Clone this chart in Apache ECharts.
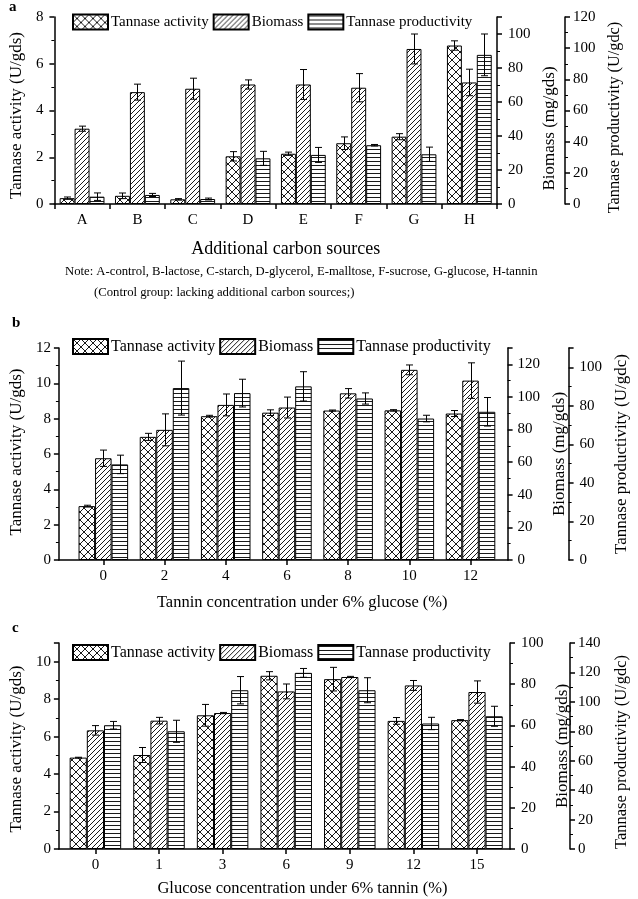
<!DOCTYPE html>
<html><head><meta charset="utf-8">
<script src="https://cdn.jsdelivr.net/npm/echarts@6/dist/echarts.min.js"></script>
<style>html,body{margin:0;padding:0;background:#fff}#c{width:638px;height:899px}</style>
</head><body><div id="c"></div>
<script>
// ---------- data (panel a) ----------
const catsA    = ['A','B','C','D','E','F','G','H'];
const actA     = [0.25, 0.35, 0.2, 2.04, 2.15, 2.6, 2.88, 6.78];
const actErrA  = [0.05, 0.12, 0.03, 0.2, 0.07, 0.27, 0.13, 0.2];
const bioA     = [44.3, 65.8, 67.8, 70.3, 70.3, 68.4, 91.2, 71.5];
const bioErrA  = [1.5, 4.7, 6.2, 2.7, 8.8, 8.3, 8.8, 7.8];
const prodA    = [4.7, 5.8, 3.2, 29.3, 31.5, 37.7, 31.9, 95.7];
const prodErrA = [2.4, 1.0, 0.6, 4.5, 4.8, 0.5, 4.6, 13.4];
// ---------- data (panel b) ----------
const catsB    = ['0','2','4','6','8','10','12'];
const actB     = [3.05, 6.97, 8.14, 8.34, 8.46, 8.47, 8.29];
const actErrB  = [0.05, 0.2, 0.05, 0.16, 0.03, 0.04, 0.17];
const bioB     = [62.4, 79.8, 95.1, 93.5, 102.2, 116.6, 110];
const bioErrB  = [5, 9.8, 6.7, 6.4, 2.9, 3, 10.9];
const prodB    = [49.6, 89.2, 86.6, 90.1, 83.8, 73.4, 76.9];
const prodErrB = [4.8, 14, 7.2, 7.6, 2.9, 1.7, 7.4];
// ---------- data (panel c) ----------
const catsC    = ['0','1','3','6','9','12','15'];
const actC     = [4.88, 5.02, 7.14, 9.25, 9.07, 6.84, 6.88];
const actErrC  = [0.02, 0.4, 0.58, 0.22, 0.63, 0.18, 0.03];
const bioC     = [57.6, 62.3, 66.0, 76.5, 83.5, 79.4, 76.2];
const bioErrC  = [2.3, 1.6, 0.3, 3.6, 0.3, 2.4, 5.4];
const prodC    = [84.1, 80.0, 107.9, 119.7, 107.9, 85.3, 90.2];
const prodErrC = [2.6, 7.5, 9.3, 3, 8.5, 4.2, 6.8];
// ---------- text ----------
const seriesNames = ['Tannase activity', 'Biomass', 'Tannase productivity'];
const xNames = ['Additional carbon sources', 'Tannin concentration under 6% glucose (%)', 'Glucose concentration under 6% tannin (%)'];
const yNames = ['Tannase activity (U/gds)', 'Biomass (mg/gds)', 'Tannase productivity (U/gdc)'];
const panelLetters = ['a', 'b', 'c'];
const noteLine1 = 'Note: A-control, B-lactose, C-starch, D-glycerol, E-malltose, F-sucrose, G-glucose, H-tannin';
const noteLine2 = '(Control group: lacking additional carbon sources;)';

const FONT = '"Liberation Serif","Times New Roman",serif';
const GAP = 0.19;

function makePattern(kind) {
  const s = kind === 'cross' ? 8 : (kind === 'diag' ? 5 : 4);
  const c = document.createElement('canvas'); c.width = s; c.height = s;
  const g = c.getContext('2d');
  g.fillStyle = '#fff'; g.fillRect(0, 0, s, s);
  g.strokeStyle = '#1a1a1a'; g.lineWidth = 1;
  g.beginPath();
  if (kind === 'cross') {
    g.moveTo(0, 0); g.lineTo(s, s); g.moveTo(0, s); g.lineTo(s, 0);
  } else if (kind === 'diag') {
    g.moveTo(0, s); g.lineTo(s, 0);
    g.moveTo(-1, 1); g.lineTo(1, -1);
    g.moveTo(s - 1, s + 1); g.lineTo(s + 1, s - 1);
  } else {
    g.moveTo(0, 1.5); g.lineTo(s, 1.5);
  }
  g.stroke();
  return { image: c, repeat: 'repeat' };
}
const patterns = [makePattern('cross'), makePattern('diag'), makePattern('horiz')];

// layout per panel (positions/styles only)
const panels = [
  { cats: catsA, vals: [actA, bioA, prodA], errs: [actErrA, bioErrA, prodErrA],
    grid: { left: 48, top: 17, width: 449, height: 187 }, xMin: -0.5, xMax: 7.5, boundaryTicks: true,
    yMax: [8, 110, 120], yInt: [2, 20, 20], prodOffset: 68,
    labelMargin: [11, 11, 8], nameGap: [24, 35, 42], nameSize: [17, 17, 16.3], nameShift: [5, 18, 7],
    xNameGap: 36, xNameSize: 18, xNameShift: 10,
    legendTop: 13.5, legendSize: 15, letterTop: 0 },
  { cats: catsB, vals: [actB, bioB, prodB], errs: [actErrB, bioErrB, prodErrB],
    grid: { left: 43, top: 348, width: 474.5, height: 212 }, xMin: -0.726, xMax: 6.606, boundaryTicks: false,
    yMax: [12, 130, 110], yInt: [2, 20, 20], prodOffset: 61,
    labelMargin: [8, 10, 11], nameGap: [23, 39, 43], nameSize: [17, 17, 17], nameShift: [-2, 0, 0],
    xNameGap: 34, xNameSize: 16.5, xNameShift: 19,
    legendTop: 338, legendSize: 16, letterTop: 316 },
  { cats: catsC, vals: [actC, bioC, prodC], errs: [actErrC, bioErrC, prodErrC],
    grid: { left: 43, top: 643, width: 475.5, height: 206 }, xMin: -0.574, xMax: 6.519, boundaryTicks: false,
    yMax: [11, 100, 140], yInt: [2, 20, 20], prodOffset: 60,
    labelMargin: [8, 11, 8], nameGap: [23, 33, 43], nameSize: [17, 17, 16.5], nameShift: [3, 0, 6],
    xNameGap: 31, xNameSize: 16.5, xNameShift: 18,
    legendTop: 644, legendSize: 16, letterTop: 621 }
];

const axisLineStyle = { color: '#000', width: 1.5 };
const grids = [], xAxes = [], yAxes = [], series = [], legends = [], graphics = [];

function errRender(k) {
  return function (params, api) {
    const x = api.value(0), v = api.value(1), e = api.value(2);
    const band = api.size([1, 0])[0];
    const bw = band * (1 - GAP) / 3;
    const cx = api.coord([x, v])[0] + (k - 1) * bw;
    const yt = api.coord([x, v + e])[1], yb = api.coord([x, v - e])[1];
    const X = Math.round(cx) + 0.5, cap = 3.5;
    const st = { stroke: '#000', lineWidth: 1 };
    return { type: 'group', children: [
      { type: 'line', shape: { x1: X, y1: yt, x2: X, y2: yb }, style: st },
      { type: 'line', shape: { x1: X - cap, y1: yt, x2: X + cap, y2: yt }, style: st },
      { type: 'line', shape: { x1: X - cap, y1: yb, x2: X + cap, y2: yb }, style: st }
    ] };
  };
}

panels.forEach((P, p) => {
  grids.push(Object.assign({ containLabel: false }, P.grid));
  const n = P.cats.length;
  const labelVals = P.cats.map((c, i) => i);
  const tickVals = P.boundaryTicks ? Array.from({ length: n + 1 }, (_, i) => i - 0.5) : labelVals;
  xAxes.push({
    gridIndex: p, type: 'value', min: P.xMin, max: P.xMax,
    axisLine: { show: true, onZero: false, lineStyle: axisLineStyle },
    axisTick: { show: true, customValues: tickVals, length: 5, lineStyle: axisLineStyle },
    axisLabel: { customValues: labelVals, formatter: v => P.cats[Math.round(v)], color: '#000',
      fontFamily: FONT, fontSize: 15, margin: 9 },
    splitLine: { show: false },
    name: xNames[p], nameLocation: 'middle', nameGap: P.xNameGap,
    nameTextStyle: { color: '#000', fontFamily: FONT, fontSize: P.xNameSize, padding: [0, 0, 0, P.xNameShift * 2] }
  });
  for (let k = 0; k < 3; k++) {
    const M = P.yMax[k], I = P.yInt[k];
    const sh = P.nameShift[k];
    yAxes.push({
      gridIndex: p, type: 'value', min: 0, max: M, interval: I,
      position: k === 0 ? 'left' : 'right', offset: k === 2 ? P.prodOffset : 0,
      axisLine: { show: true, onZero: false, lineStyle: axisLineStyle },
      axisTick: { show: true, length: 5, lineStyle: axisLineStyle },
      minorTick: { show: true, splitNumber: 2, length: 3, lineStyle: { color: '#000', width: 1 } },
      splitLine: { show: false },
      axisLabel: { color: '#000', fontFamily: FONT, fontSize: 15, margin: P.labelMargin[k],
        showMaxLabel: M % I === 0 },
      name: yNames[k], nameLocation: 'middle', nameRotate: 90, nameGap: P.nameGap[k],
      nameTextStyle: { color: '#000', fontFamily: FONT, fontSize: P.nameSize[k],
        padding: sh >= 0 ? [0, sh * 2, 0, 0] : [0, 0, 0, -sh * 2] }
    });
    series.push({
      type: 'bar', name: seriesNames[k], xAxisIndex: p, yAxisIndex: p * 3 + k,
      data: P.vals[k].map((v, i) => [i, v]),
      barGap: '0%', barCategoryGap: (GAP * 100) + '%',
      itemStyle: { color: patterns[k], borderColor: '#000', borderWidth: 1 },
      emphasis: { disabled: true }, animation: false
    });
  }
  for (let k = 0; k < 3; k++) {
    series.push({
      type: 'custom', name: 'err' + p + k, xAxisIndex: p, yAxisIndex: p * 3 + k,
      data: P.vals[k].map((v, i) => [i, v, P.errs[k][i]]),
      renderItem: errRender(k), z: 5, animation: false, silent: true
    });
  }
  legends.push({
    left: 72, top: P.legendTop, padding: 0, itemGap: 4, itemWidth: 35, itemHeight: 15,
    icon: 'rect', selectedMode: false, data: seriesNames,
    textStyle: { color: '#000', fontFamily: FONT, fontSize: P.legendSize, padding: [0, 0, 0, -2] }
  });
  graphics.push({ type: 'text', left: p === 0 ? 9 : 12, top: P.letterTop,
    style: { text: panelLetters[p], fill: '#000', font: 'bold 15px ' + FONT } });
});

graphics.push({ type: 'text', left: 65, top: 265, style: { text: noteLine1, fill: '#000', font: '12.7px ' + FONT } });
graphics.push({ type: 'text', left: 94, top: 286, style: { text: noteLine2, fill: '#000', font: '12.7px ' + FONT } });

const chart = echarts.init(document.getElementById('c'), null, { renderer: 'canvas' });
chart.setOption({
  backgroundColor: '#fff', animation: false,
  grid: grids, xAxis: xAxes, yAxis: yAxes, series: series, legend: legends, graphic: graphics,
  tooltip: { show: false }
});
</script></body></html>
